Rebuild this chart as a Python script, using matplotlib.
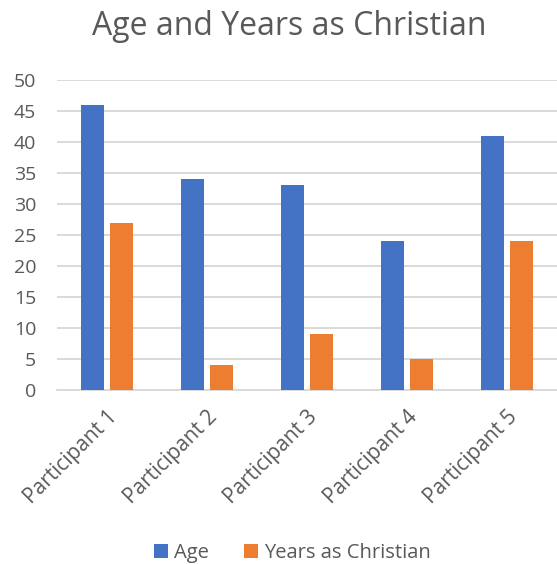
import matplotlib
matplotlib.use("Agg")
import matplotlib.pyplot as plt
import numpy as np

categories = ["Participant 1", "Participant 2", "Participant 3", "Participant 4", "Participant 5"]
age = [46, 34, 33, 24, 41]
years_christian = [27, 4, 9, 5, 24]
series_names = ["Age", "Years as Christian"]
yticks = [0, 5, 10, 15, 20, 25, 30, 35, 40, 45, 50]

plt.rcParams['font.family'] = ['Open Sans', 'DejaVu Sans']

fig = plt.figure(figsize=(5.57, 5.64), dpi=100)
ax = fig.add_axes([0.1023, 0.3085, 0.8977, 0.5497])

x = np.arange(len(categories))
w = 0.23
gap = 0.06
ax.bar(x - (w + gap) / 2, age, w, color="#4472C4", label=series_names[0], zorder=3)
ax.bar(x + (w + gap) / 2, years_christian, w, color="#ED7D31", label=series_names[1], zorder=3)

ax.set_xlim(-0.5, len(categories) - 0.5)
ax.set_ylim(0, 50)
ax.set_yticks(yticks)
ax.yaxis.grid(True, color="#D9D9D9", linewidth=1.4, zorder=0)
for s in ["top", "right", "left"]:
    ax.spines[s].set_visible(False)
ax.spines["bottom"].set_color("#D9D9D9")
ax.spines["bottom"].set_linewidth(1.4)
ax.tick_params(axis="y", length=0, colors="#595959", labelsize=14, pad=15)
ax.set_xticks(x)
ax.set_xticklabels(categories, rotation=45, ha="right", rotation_mode="anchor")
ax.tick_params(axis="x", length=0, colors="#595959", labelsize=15, pad=12)

fig.suptitle("Age and Years as Christian", x=0.52, y=0.982, fontsize=23, color="#595959")

fig.legend(loc="lower center", bbox_to_anchor=(0.525, -0.03), ncol=2, frameon=False,
           fontsize=14.5, labelcolor="#595959", handlelength=0.7, handleheight=0.7,
           handletextpad=0.3, columnspacing=1.7)

fig.savefig("out.png", dpi=100)
